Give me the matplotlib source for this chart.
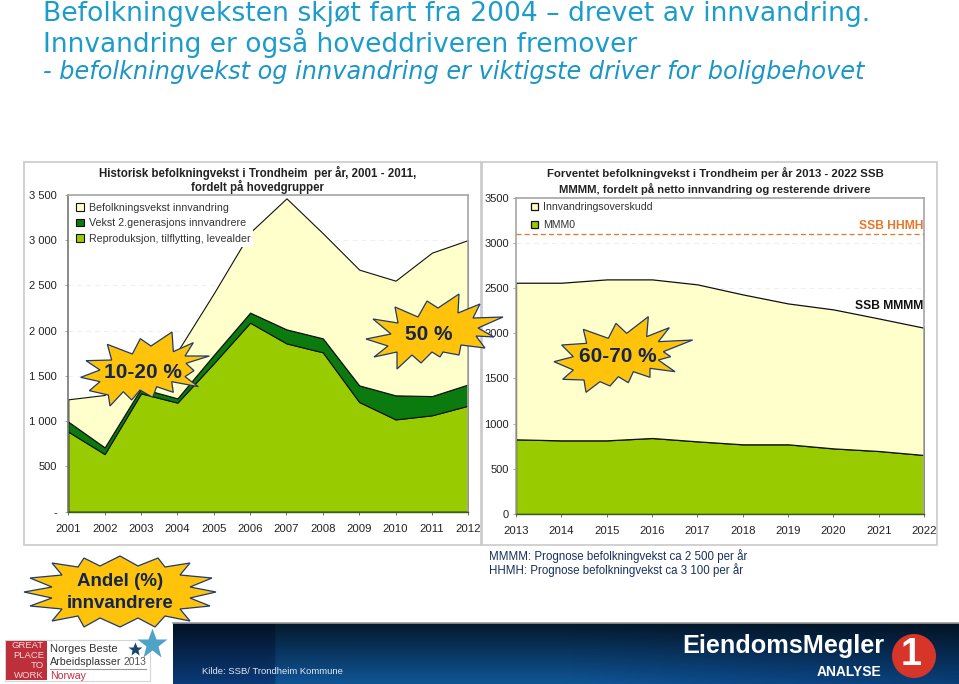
import numpy as np
import matplotlib
matplotlib.use("Agg")
import matplotlib.pyplot as plt
from matplotlib.patches import Polygon, Rectangle, Circle
from matplotlib.lines import Line2D
from matplotlib.colors import LinearSegmentedColormap

plt.rcParams['font.family'] = ['Liberation Sans', 'DejaVu Sans']

# ---------- data ----------
hist_years = [2001, 2002, 2003, 2004, 2005, 2006, 2007, 2008, 2009, 2010, 2011, 2012]
hist_repro = [884, 637, 1308, 1205, 1640, 2089, 1860, 1761, 1212, 1020, 1065, 1172]
hist_gen2 = [111, 74, 55, 48, 92, 111, 155, 155, 184, 266, 213, 235]
hist_innv = [247, 579, 387, 517, 681, 887, 1448, 1161, 1279, 1267, 1585, 1596]
hist_labels = ['Befolkningsvekst innvandring', 'Vekst 2.generasjons innvandrere',
               'Reproduksjon, tilflytting, levealder']
hist_yticks = [0, 500, 1000, 1500, 2000, 2500, 3000, 3500]
hist_yticklabels = ['-', '500', '1 000', '1 500', '2 000', '2 500', '3 000', '3 500']

prog_years = [2013, 2014, 2015, 2016, 2017, 2018, 2019, 2020, 2021, 2022]
prog_mmm0 = [826, 815, 815, 841, 804, 771, 771, 726, 697, 653]
prog_innv = [1733, 1744, 1781, 1755, 1737, 1659, 1559, 1538, 1467, 1408]
prog_labels = ['Innvandringsoverskudd', 'MMM0']
prog_hhmh = 3100
prog_yticks = [0, 500, 1000, 1500, 2000, 2500, 3000, 3500]

C_GREEN = '#99CC00'
C_DARK = '#0B7A0F'
C_CREAM = '#FFFFCC'
C_STAR = '#FFC30B'
C_NAVY = '#14264F'
W, H = 959, 684

fig = plt.figure(figsize=(W / 100, H / 100), dpi=100, facecolor='white')


def axes_px(x0, y0, x1, y1, **kw):
    return fig.add_axes([x0 / W, 1 - y1 / H, (x1 - x0) / W, (y1 - y0) / H], **kw)


# ---------- background layer: panel frames ----------
bg = fig.add_axes([0, 0, 1, 1], zorder=0)
bg.set_xlim(0, W); bg.set_ylim(H, 0); bg.axis('off')
bg.add_patch(Rectangle((23.5, 162), 457, 383, fc='white', ec='#C9C9C9', lw=1.2))
bg.add_patch(Rectangle((482, 162), 455, 383, fc='white', ec='#C9C9C9', lw=1.2))


def style_axes(ax, years, yticks, yticklabels):
    ax.set_xlim(years[0], years[-1])
    ax.set_ylim(0, 3500)
    ax.set_xticks(years)
    ax.set_xticklabels([str(y) for y in years], fontsize=8.2, color='#222222')
    ax.set_yticks(yticks)
    ax.set_yticklabels(yticklabels, fontsize=8, color='#222222')
    ax.tick_params(axis='x', length=2, width=0.6, color='#555555', pad=6.5)
    ax.tick_params(axis='y', length=2, width=0.6, color='#999999', pad=6)
    ax.set_axisbelow(True)
    ax.grid(axis='y', color='#EFEFEF', lw=0.8, ls=(0, (4, 4)))
    ax.set_facecolor('white')
    for s in ['top', 'right', 'left']:
        ax.spines[s].set_color('#A6A6A6')
        ax.spines[s].set_linewidth(1.2)
    ax.spines['bottom'].set_color('#3C5A1E')
    ax.spines['bottom'].set_linewidth(1.0)


# ---------- left panel ----------
axL = axes_px(68.3, 195, 468.3, 511.7, zorder=1)
style_axes(axL, hist_years, hist_yticks, hist_yticklabels)
axL.spines['left'].set_color('#777777')
stL = axL.stackplot(hist_years, hist_repro, hist_gen2, hist_innv,
                    colors=[C_GREEN, C_DARK, C_CREAM],
                    edgecolor='#111111', linewidth=0.8, zorder=2)
axL.legend([stL[2], stL[1], stL[0]], hist_labels, loc='upper left',
           bbox_to_anchor=(0.012, 0.985), borderaxespad=0, frameon=True,
           framealpha=1, facecolor='white', edgecolor='none', fancybox=False,
           fontsize=7.7, handlelength=0.7, handleheight=0.7, handletextpad=0.45,
           labelspacing=0.5, borderpad=0.3, labelcolor='#333333')
axL.get_legend().set_zorder(5)
fig.text(257.5 / W, 1 - 172.5 / H, 'Historisk befolkningvekst i Trondheim  per år, 2001 - 2011,',
         ha='center', va='center', fontsize=8.3, fontweight='bold', color='#222222', zorder=3)
fig.text(257 / W, 1 - 187 / H, 'fordelt på hovedgrupper',
         ha='center', va='center', fontsize=8.3, fontweight='bold', color='#222222', zorder=3)

# ---------- right panel ----------
axR = axes_px(516, 197.7, 924, 514, zorder=1)
style_axes(axR, prog_years, prog_yticks, [str(v) for v in prog_yticks])
axR.tick_params(axis='y', pad=3)
stR = axR.stackplot(prog_years, prog_mmm0, prog_innv, colors=[C_GREEN, C_CREAM],
                    edgecolor='#111111', linewidth=0.9, zorder=2)
axR.axhline(prog_hhmh, color='#E8762C', lw=0.9, ls=(0, (4, 2.5)), zorder=3)
axR.legend([stR[1], stR[0]], prog_labels, loc='upper left',
           bbox_to_anchor=(0.03, 0.995), borderaxespad=0, frameon=False,
           fontsize=7.6, handlelength=0.65, handleheight=0.65, handletextpad=0.45,
           labelspacing=0.75, borderpad=0.3, labelcolor='#333333')
axR.text(2022 - 0.02, prog_hhmh + 22, 'SSB HHMH', ha='right', va='bottom', fontsize=8.7,
         fontweight='bold', color='#E8762C', zorder=4)
axR.text(2022 - 0.02, 2300, 'SSB MMMM', ha='right', va='center', fontsize=8.7,
         fontweight='bold', color='#111111', zorder=4)
fig.text(715 / W, 1 - 173 / H, 'Forventet befolkningvekst i Trondheim per år 2013 - 2022 SSB',
         ha='center', va='center', fontsize=8.2, fontweight='bold', color='#222222', zorder=3)
fig.text(715 / W, 1 - 189 / H, 'MMMM, fordelt på netto innvandring og resterende drivere',
         ha='center', va='center', fontsize=8.15, fontweight='bold', color='#222222', zorder=3)

# ---------- overlay layer ----------
ov = fig.add_axes([0, 0, 1, 1], zorder=10)
ov.set_xlim(0, W); ov.set_ylim(H, 0); ov.axis('off'); ov.patch.set_alpha(0)

# headings
ov.text(43, 20.7, 'Befolkningveksten skjøt fart fra 2004 – drevet av innvandring.',
        fontsize=19.2, color='#1B9CCB', va='baseline', ha='left', family='DejaVu Sans')
ov.text(43, 51.7, 'Innvandring er også hoveddriveren fremover',
        fontsize=19.0, color='#1B9CCB', va='baseline', ha='left', family='DejaVu Sans')
ov.text(43, 79.3, '- befolkningvekst og innvandring er viktigste driver for boligbehovet',
        fontsize=17.3, color='#1B96C6', va='baseline', ha='left', style='italic', family='DejaVu Sans')


def zoom1(p):
    return [(x / 3, 160 + y / 3) for x, y in p]


def zoom2(p):
    return [(480 + x / 3, 160 + y / 3) for x, y in p]


star_a = zoom1([(242, 652), (300, 630), (258, 602), (335, 600), (322, 553), (397, 582), (421, 536),
                (453, 558), (516, 516), (520, 575), (580, 548), (555, 588), (628, 588), (558, 610),
                (582, 632), (555, 650), (595, 680), (515, 665), (520, 697), (470, 680), (458, 712),
                (420, 690), (395, 720), (370, 695), (330, 738), (325, 705), (268, 692), (300, 665)])
star_b = [(366, 339), (391, 334), (373, 319), (398, 323), (395, 307), (418, 317), (427, 301),
          (438, 308), (459, 294), (458, 313), (480, 304), (473, 318), (503, 317), (478, 328),
          (494, 337), (476, 336), (485, 348), (461, 345), (459, 355), (443, 352), (440, 357),
          (432, 352), (421, 363), (412, 355), (397, 369), (397, 352), (374, 357), (388, 346)]
star_c = zoom2([(222, 605), (280, 590), (245, 555), (320, 550), (310, 508), (385, 535), (408, 490),
                (440, 520), (505, 470), (500, 530), (568, 503), (535, 545), (638, 540), (550, 575),
                (572, 590), (535, 600), (585, 635), (510, 625), (510, 652), (460, 635), (445, 668),
                (415, 650), (390, 678), (360, 665), (318, 697), (312, 660), (248, 658), (280, 630)])
star_d = [(24, 592), (52, 587), (30, 578), (62, 575), (52, 563), (78, 567), (84, 558),
          (100, 566), (120, 556), (138, 566), (158, 558), (165, 567), (190, 563), (180, 575),
          (212, 578), (190, 587), (216, 592), (190, 598), (210, 606), (180, 609), (190, 621),
          (165, 616), (155, 627), (138, 618), (120, 627), (100, 618), (84, 627), (78, 616),
          (52, 621), (62, 609), (30, 606), (52, 598)]
for pts in (star_a, star_b, star_c, star_d):
    ov.add_patch(Polygon(pts, closed=True, fc=C_STAR, ec='#1F3A6E', lw=0.9, zorder=6))

for x, y, s in [(143, 372, '10-20 %'), (429, 334, '50 %'), (618, 357, '60-70 %')]:
    ov.text(x, y, s, fontsize=15, fontweight='bold', color=C_NAVY, ha='center', va='center', zorder=7)
ov.text(120, 582, 'Andel (%)', fontsize=13.5, fontweight='bold', color=C_NAVY,
        ha='center', va='center', zorder=7)
ov.text(120, 604, 'innvandrere', fontsize=13.5, fontweight='bold', color=C_NAVY,
        ha='center', va='center', zorder=7)

# notes
ov.text(489, 556, 'MMMM: Prognose befolkningvekst ca 2 500 per år', fontsize=8.3, color='#17305E', va='center')
ov.text(489, 570, 'HHMH: Prognose befolkningvekst ca 3 100 per år', fontsize=8.3, color='#17305E', va='center')

# footer banner
cmap = LinearSegmentedColormap.from_list('banner', [(0, '#0A3A78'), (0.125, '#0A3A78'), (0.13, '#0F5596'),
                                                    (0.5, '#0F5596'), (0.75, '#0C4888'), (1, '#0A3F78')])
xg = np.linspace(0, 1, 400)
yg = np.linspace(0.3, 1, 40).reshape(-1, 1, 1)
rgb = cmap(xg)[np.newaxis, :, :3] * yg
ov.imshow(rgb, extent=(173, W, H, 623), aspect='auto', zorder=1)
ov.set_xlim(0, W); ov.set_ylim(H, 0)
ov.add_line(Line2D([173, W], [623, 623], color='#9A9A9A', lw=1.2, zorder=2))
ov.text(202, 672, 'Kilde: SSB/ Trondheim Kommune', fontsize=6.8, color='#E2E8F0', va='center', zorder=3)
ov.text(682, 646, 'EiendomsMegler', fontsize=18.2, fontweight='bold', color='white', va='center', zorder=3)
ov.text(881, 672, 'ANALYSE', fontsize=10, fontweight='bold', color='white', va='center', ha='right', zorder=3)
ov.add_patch(Circle((914, 656), 22, fc='#D8352A', ec='none', zorder=3))
ov.text(911, 655, '1', fontsize=27, fontweight='bold', color='white', ha='center', va='center', zorder=4)

# award badge
ov.add_patch(Rectangle((5, 640), 145, 41, fc='white', ec='#D5D5D5', lw=0.8, zorder=3))
ov.add_patch(Rectangle((6, 641), 41, 39, fc='#BE2F3C', ec='none', zorder=4))
for y, s in zip([646, 655.5, 665, 675], ['GREAT', 'PLACE', 'TO', 'WORK']):
    ov.text(44, y, s, fontsize=6.8, color='#F3D9D5', ha='right', va='center', zorder=5)
ov.text(50, 649, 'Norges Beste', fontsize=8, color='#333333', va='center', zorder=5)
ov.text(50, 662, 'Arbeidsplasser', fontsize=7.7, color='#333333', va='center', zorder=5)
ov.text(146, 662, '2013', fontsize=7.4, color='#555555', va='center', ha='right', zorder=5)
ov.add_line(Line2D([50, 146], [669, 669], color='#999999', lw=0.8, zorder=5))
ov.text(50, 676, 'Norway', fontsize=7.6, color='#BE2F3C', va='center', zorder=5)
ov.plot([152], [644], marker='*', ms=23, color='#4FA3C7', mec='none', zorder=5)
ov.plot([135], [649], marker='*', ms=10, color='#17466E', mec='none', zorder=6)
ov.set_xlim(0, W); ov.set_ylim(H, 0)

fig.savefig('out.png', dpi=100)
